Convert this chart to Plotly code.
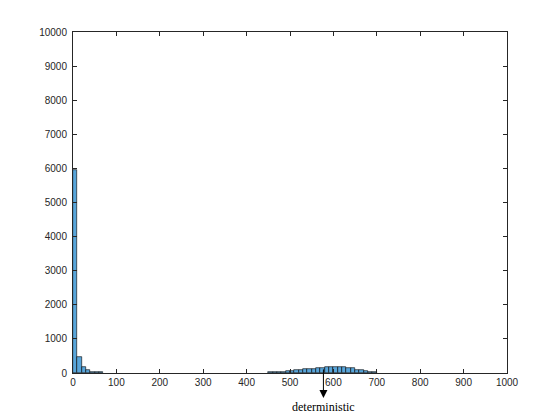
import plotly.graph_objects as go

# Histogram data (bin width 10)
bin_left = [0, 10, 20, 30, 40, 50, 60,
            450, 460, 470, 480, 490, 500, 510, 520, 530, 540, 550, 560, 570,
            580, 590, 600, 610, 620, 630, 640, 650, 660, 670, 680, 690]
counts = [5950, 460, 170, 80, 35, 30, 25,
          15, 15, 15, 15, 50, 55, 75, 80, 105, 110, 130, 135, 160,
          175, 180, 185, 185, 180, 150, 145, 100, 95, 55, 30, 20]
bin_width = 10

x_ticks = list(range(0, 1001, 100))
y_ticks = list(range(0, 10001, 1000))

deterministic_x = 577
deterministic_label = "deterministic"

centers = [b + bin_width / 2 for b in bin_left]

fig = go.Figure()
fig.add_trace(go.Bar(
    x=centers, y=counts, width=[bin_width] * len(centers),
    marker=dict(color="rgb(88,165,218)", line=dict(color="black", width=0.6)),
    showlegend=False, hoverinfo="skip",
))

axis_common = dict(
    showgrid=False, zeroline=False, showline=True, mirror="ticks",
    linecolor="#262626", linewidth=1, ticks="inside", ticklen=4,
    tickcolor="#262626", tickwidth=1,
    tickfont=dict(family="Liberation Sans, Arial, sans-serif", size=10, color="#262626"),
)

fig.update_xaxes(range=[0, 1000], tickvals=x_ticks, ticktext=[str(v) for v in x_ticks], **axis_common)
fig.update_yaxes(range=[0, 10000], tickvals=y_ticks, ticktext=[str(v) for v in y_ticks],
                 ticklabelstandoff=3, **axis_common)

# arrow
fig.add_annotation(
    x=deterministic_x, y=-0.073, xref="x", yref="paper",
    ax=0, ay=-30, axref="pixel", ayref="pixel",
    text="", showarrow=True, arrowhead=2, arrowsize=1.6, arrowwidth=1,
    arrowcolor="black",
)
fig.add_annotation(
    x=deterministic_x, y=-0.10, xref="x", yref="paper",
    text=deterministic_label, showarrow=False, xanchor="center", yanchor="middle",
    font=dict(family="Liberation Serif, Times New Roman, serif", size=12, color="black"),
)

fig.update_layout(
    width=560, height=420,
    margin=dict(l=73, r=53, t=32, b=47),
    paper_bgcolor="white", plot_bgcolor="white",
    bargap=0,
)

fig.write_html("out.html", config={"displayModeBar": False},
               post_script="document.body.style.margin='0';document.body.style.overflow='hidden';")
